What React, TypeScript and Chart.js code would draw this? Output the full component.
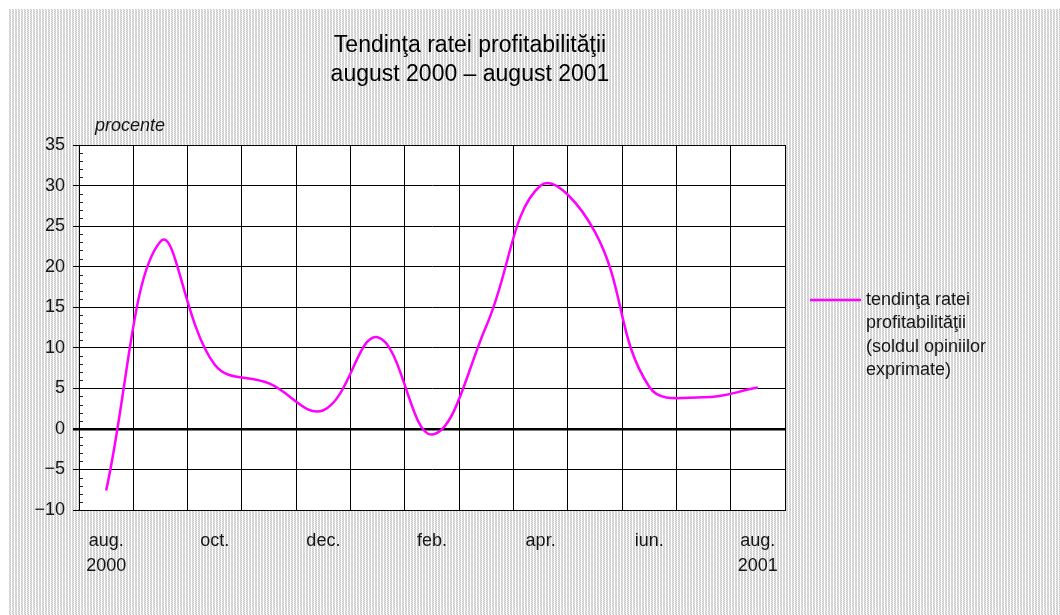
import { useEffect, useRef } from 'react';
import { Chart, registerables } from 'chart.js';

Chart.register(...registerables);

// ---- data ----
const months = ['aug.', 'sep.', 'oct.', 'nov.', 'dec.', 'ian.', 'feb.', 'mar.', 'apr.', 'mai', 'iun.', 'iul.', 'aug.'];
const years = ['2000', '', '', '', '', '', '', '', '', '', '', '', '2001'];
const profitTrend = [-7.6, 23.1, 7.9, 5.6, 2.3, 11.3, -0.7, 12.7, 30.0, 24.3, 5.2, 3.9, 5.1];
const seriesLabel = 'tendinţa ratei profitabilităţii (soldul opiniilor exprimate)';
const legendLines = ['tendinţa ratei', 'profitabilităţii', '(soldul opiniilor', 'exprimate)'];
const titleLines = ['Tendinţa ratei profitabilităţii', 'august 2000 – august 2001'];
const unitLabel = 'procente';
const yMin = -10;
const yMax = 35;
const yStep = 5;

const FONT = '"Liberation Sans", Arial, Helvetica, sans-serif';
const LINE_COLOR = '#ff00ff';
const TEXT = '#151515';

const backgroundPlugin = {
  id: 'hatchBackground',
  beforeDraw(chart: any) {
    const { ctx, width, height, chartArea } = chart;
    const tile = document.createElement('canvas');
    tile.width = 3;
    tile.height = 2;
    const t = tile.getContext('2d')!;
    t.fillStyle = '#ffffff';
    t.fillRect(0, 0, 3, 2);
    t.fillStyle = '#c9c9c9';
    t.fillRect(1, 0, 1, 1);
    t.fillRect(2, 1, 1, 1);
    t.fillStyle = '#e4e4e4';
    t.fillRect(1, 1, 1, 1);
    t.fillRect(2, 0, 1, 1);
    const pattern = ctx.createPattern(tile, 'repeat');
    ctx.save();
    ctx.fillStyle = pattern;
    ctx.fillRect(0, 0, width, height);
    ctx.fillStyle = '#ffffff';
    ctx.fillRect(chartArea.left, chartArea.top, chartArea.right - chartArea.left, chartArea.bottom - chartArea.top);
    ctx.restore();
  },
};

const decorPlugin = {
  id: 'decor',
  beforeDatasetsDraw(chart: any) {
    const { ctx, chartArea, scales } = chart;
    const y = scales.y;
    ctx.save();
    // minor ticks inside the plot, every unit
    ctx.strokeStyle = '#222';
    ctx.lineWidth = 1;
    for (let v = yMin; v <= yMax; v += 1) {
      if (v % yStep === 0) continue;
      const py = Math.round(y.getPixelForValue(v)) + 0.5;
      ctx.beginPath();
      ctx.moveTo(chartArea.left, py);
      ctx.lineTo(chartArea.left + 4, py);
      ctx.stroke();
    }
    // plot frame
    ctx.strokeStyle = '#000';
    ctx.strokeRect(Math.round(chartArea.left) + 0.5, Math.round(chartArea.top) + 0.5,
      Math.round(chartArea.right - chartArea.left), Math.round(chartArea.bottom - chartArea.top));
    ctx.restore();
  },
  afterDraw(chart: any) {
    const { ctx, chartArea } = chart;
    ctx.save();
    // title
    ctx.fillStyle = '#000';
    ctx.font = `23px ${FONT}`;
    ctx.textAlign = 'center';
    ctx.textBaseline = 'alphabetic';
    titleLines.forEach((line, i) => ctx.fillText(line, 462, 43 + i * 29));
    // unit label
    ctx.font = `italic 18px ${FONT}`;
    ctx.textAlign = 'left';
    ctx.fillStyle = TEXT;
    ctx.fillText(unitLabel, 87, 122);
    // legend
    const lx = chartArea.right + 25;
    const ly = 291;
    ctx.strokeStyle = LINE_COLOR;
    ctx.lineWidth = 2.5;
    ctx.beginPath();
    ctx.moveTo(lx, ly);
    ctx.lineTo(lx + 51, ly);
    ctx.stroke();
    ctx.font = `18px ${FONT}`;
    ctx.textBaseline = 'middle';
    ctx.fillStyle = TEXT;
    legendLines.forEach((line, i) => ctx.fillText(line, lx + 56, ly + i * 23.3));
    ctx.restore();
  },
};

export default function App() {
  const ref = useRef<HTMLCanvasElement>(null);
  useEffect(() => {
    const chart = new Chart(ref.current!, {
      type: 'line',
      data: {
        labels: months,
        datasets: [
          {
            label: seriesLabel,
            data: profitTrend,
            borderColor: LINE_COLOR,
            backgroundColor: LINE_COLOR,
            borderWidth: 2.5,
            pointRadius: 0,
            tension: 0.4,
            fill: false,
          },
        ],
      },
      options: {
        animation: false,
        responsive: false,
        devicePixelRatio: 1,
        layout: { padding: { top: 136, right: 275, left: 0, bottom: 0 } },
        plugins: {
          legend: { display: false },
          title: { display: false },
          tooltip: { enabled: false },
        },
        scales: {
          x: {
            type: 'category',
            offset: true,
            grid: {
              offset: true,
              color: '#000',
              lineWidth: 1,
              drawTicks: false,
            },
            border: { color: '#000', width: 1 },
            ticks: {
              autoSkip: false,
              maxRotation: 0,
              padding: 18,
              color: TEXT,
              font: { family: FONT, size: 18, lineHeight: 1.4 },
              callback: (_v: any, i: number) => {
                if (i % 2 !== 0) return '';
                return years[i] ? [months[i], years[i]] : months[i];
              },
            },
            afterFit: (s: any) => {
              s.height = 105;
            },
          },
          y: {
            min: yMin,
            max: yMax,
            ticks: {
              stepSize: yStep,
              padding: 8,
              color: TEXT,
              font: { family: FONT, size: 18 },
              callback: (v: any) => String(v).replace('-', '−'),
            },
            grid: {
              color: '#000',
              tickColor: '#000',
              tickLength: 6,
              lineWidth: (c: any) => (c.tick && c.tick.value === 0 ? 2.5 : 1),
            },
            border: { color: '#000', width: 1 },
            afterFit: (s: any) => {
              s.width = 71;
            },
          },
        },
      },
      plugins: [backgroundPlugin, decorPlugin],
    });
    return () => chart.destroy();
  }, []);

  return (
    <div style={{ position: 'absolute', left: 8, top: 9, width: 1052, height: 606 }}>
      <canvas ref={ref} width={1052} height={606} style={{ width: 1052, height: 606, display: 'block' }} />
    </div>
  );
}
